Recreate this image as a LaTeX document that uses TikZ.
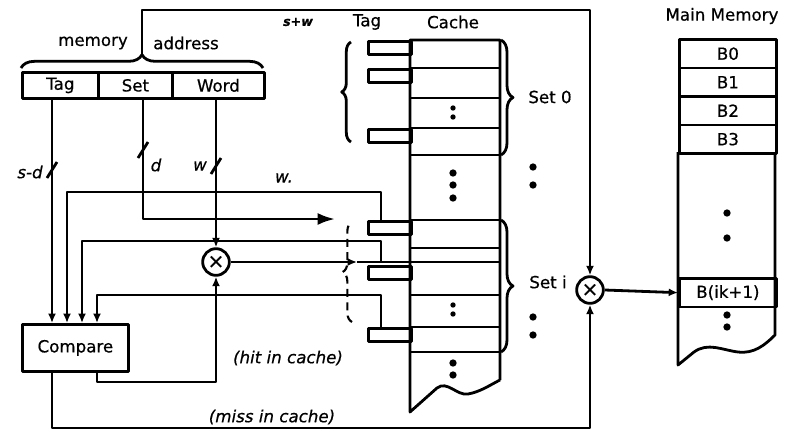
\documentclass[tikz,border=0pt]{standalone}
\usepackage{fontspec}
\setmainfont{DejaVu Sans}[FakeBold=0.6]
\usetikzlibrary{arrows.meta,decorations.pathreplacing,calc}
\begin{document}
\begin{tikzpicture}[x=0.75pt,y=-0.75pt,line width=2.1pt,line join=round,
  font=\fontsize{12.5}{14}\selectfont,
  arr/.style={-{Latex[length=7pt,width=6pt]}},
  bigarr/.style={-{Latex[length=13pt,width=9pt]}},
  fld/.style={draw,minimum height=19.5pt,inner sep=0pt,anchor=north west},
  tabbox/.style={draw,minimum width=32.25pt,minimum height=9.75pt,inner sep=0pt,anchor=north west},
  mmrow/.style={draw,minimum width=72.75pt,minimum height=21.4pt,inner sep=0pt,anchor=north west},
  mul/.style={draw,circle,minimum size=20pt,inner sep=0pt,font=\fontsize{15}{15}\selectfont},
  lab/.style={inner sep=1pt},
  ilab/.style={inner sep=1pt,font=\fontsize{12.5}{14}\selectfont\itshape},
  brc/.style={decorate,decoration={brace,amplitude=#1}},
  dot/.style={circle,fill,inner sep=0pt,minimum size=5.5pt},
  sdot/.style={circle,fill,inner sep=0pt,minimum size=4pt}]
\useasboundingbox (0,0) rectangle (789,432);

% ---- memory address ----
\node[fld,minimum width=57pt] (tagf) at (21,71) {Tag};
\node[fld,minimum width=55.5pt] (setf) at (97,71) {Set};
\node[fld,minimum width=69pt] (wordf) at (171,71) {Word};
\node[lab] (lmem) at (93,43) {memory};
\node[lab] (laddr) at (186,43) {address};
\draw[brc=10pt] (21,68) -- (263,68);
\coordinate (btip) at (142,54);

% ---- cache ----
\node[lab] (ltag) at (367,22) {Tag};
\node[lab] (lcache) at (453,22) {Cache};
\node[lab,font=\fontsize{9.5}{10}\selectfont\bfseries\itshape] (lsw) at (298,22) {s+w};
\draw (500,380) -- (500,40) -- (410,40) -- (410,412) -- (437,388)
  .. controls (447,380) and (457,396) .. (468,394)
  .. controls (480,392) and (490,385) .. (500,380);
\foreach \yy in {68,98,128,155,220,248,262,295,327,352}
  \draw (410,\yy) -- (500,\yy);
\node[tabbox] (t0a) at (367,40) {};
\node[tabbox] (t0b) at (367,68) {};
\node[tabbox] (t0c) at (367,128) {};
\node[tabbox] (tia) at (367,220) {};
\node[tabbox] (tib) at (367,265) {};
\node[tabbox] (tic) at (367,327) {};
\node[sdot] (c0d1) at (453,108) {};
\node[sdot] (c0d2) at (453,117) {};
\node[sdot] (cid1) at (453,305) {};
\node[sdot] (cid2) at (453,314) {};
\foreach \yy/\nm in {173/a,185/b,198/c} \node[dot] (cm\nm) at (453,\yy) {};
\foreach \yy/\nm in {363/a,375/b} \node[dot] (cb\nm) at (453,\yy) {};
\draw[brc=7pt] (351,142) -- (351,42);
\draw[brc=9pt] (501,40) -- (501,155);
\draw[brc=9pt] (501,220) -- (501,352);
\draw[brc=7pt,dash pattern=on 6pt off 4pt,line width=1.6pt] (352,322) -- (352,222);
\node[lab] (lset0) at (550,97) {Set 0};
\node[lab] (lseti) at (548,282) {Set i};
\foreach \yy/\nm in {167/a,185/b,317/c,335/d} \node[dot] (rd\nm) at (533,\yy) {};

% ---- main memory ----
\node[lab] (lmm) at (722,16) {Main Memory};
\node[mmrow] (mm0) at (678,38) {B0};
\node[mmrow] (mm1) at (678,66.5) {B1};
\node[mmrow] (mm2) at (678,95) {B2};
\node[mmrow] (mm3) at (678,123.5) {B3};
\node[mmrow] (mmk) at (678,277) {B(ik+1)};
\draw (678,152) -- (678,365) -- (694,352)
  .. controls (708,342) and (722,350) .. (738,352)
  .. controls (754,354) and (765,345) .. (775,335) -- (775,152);
\foreach \yy/\nm in {213/a,238/b,315/c,327/d} \node[dot] (md\nm) at (727,\yy) {};

% ---- compare and selectors ----
\node[draw,minimum width=79.5pt,minimum height=35.25pt,inner sep=0pt,anchor=north west] (cmp) at (21,323) {Compare};
\node[mul] (mulL) at (216,262) {×};
\node[mul] (mulR) at (590,290) {×};

\coordinate (cin1) at (52,323);
\coordinate (cin2) at (67,323);
\coordinate (cin3) at (82,323);
\coordinate (cin4) at (97,323);
\coordinate (tagout) at (52,97);
\coordinate (setout) at (143,97);
\coordinate (wordout) at (216,97);
\coordinate (ta) at (381,220);
\coordinate (tb) at (381,262);
\coordinate (tc) at (381,327);
\coordinate (hitout) at (97,370);
\coordinate (missout) at (52,370);
\coordinate (selout) at (357,262);
\coordinate (rowtop) at (410,262);
\coordinate (blob) at (335,219);

% connectors
\draw[arr] (btip) -- (142,10) -| (mulR.north);
\draw[arr] (tagout) -- (cin1);
\draw[bigarr] (setout) |- (blob);
\draw[arr] (wordout) -- (mulL.north);
\draw[arr] (ta) -- (381,192) -| (cin2);
\draw[arr] (tb) -- (381,241) -| (cin3);
\draw[arr] (tc) -- (381,295) -| (cin4);
\draw[arr] (mulL.east) -- (selout);
\draw (selout) -- (rowtop);
\draw[arr] (hitout) -- (97,382) -| (mulL.south);
\draw[arr] (missout) -- (52,428) -| (mulR.south);
\draw[arr] (mulR.east) -- (mmk.west);

% slashes and bit labels
\draw (47,178) -- (57,162);
\draw (138,158) -- (148,142);
\draw (211,174) -- (221,158);
\node[ilab] (lsd) at (30,172) {s-d};
\node[ilab] (ld) at (156,165) {d};
\node[ilab] (lw) at (200,166) {w};
\node[ilab] (lw2) at (284,178) {w.};
\node[ilab] (lhit) at (288,358) {(hit in cache)};
\node[ilab] (lmiss) at (272,417) {(miss in cache)};
\end{tikzpicture}
\end{document}
